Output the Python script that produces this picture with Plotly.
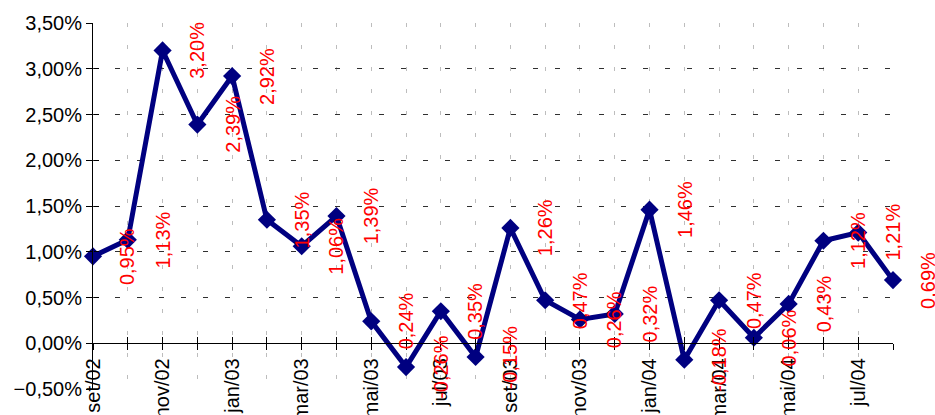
import plotly.graph_objects as go

months = ["set/02", "out/02", "nov/02", "dez/02", "jan/03", "fev/03", "mar/03", "abr/03",
          "mai/03", "jun/03", "jul/03", "ago/03", "set/03", "out/03", "nov/03", "dez/03",
          "jan/04", "fev/04", "mar/04", "abr/04", "mai/04", "jun/04", "jul/04", "ago/04"]
values = [0.95, 1.13, 3.20, 2.39, 2.92, 1.35, 1.06, 1.39,
          0.24, -0.26, 0.35, -0.15, 1.26, 0.47, 0.26, 0.32,
          1.46, -0.18, 0.47, 0.06, 0.43, 1.12, 1.21, 0.69]
tick_labels = [m if i % 2 == 0 else "" for i, m in enumerate(months)]
y_min, y_max, y_step = -0.5, 3.5, 0.5

n = len(values)
idx = list(range(n))
FONT = "Liberation Sans, Arial, sans-serif"
NAVY = "#000080"

fig = go.Figure()
fig.add_trace(go.Scatter(
    x=idx, y=values, mode="lines+markers",
    line=dict(color=NAVY, width=5),
    marker=dict(symbol="diamond", size=14, color=NAVY),
    showlegend=False, cliponaxis=False,
))
# empty trace so the overlay axes (used for the inner half of the cross ticks) are drawn
fig.add_trace(go.Scatter(x=[], y=[], xaxis="x2", yaxis="y2",
                         showlegend=False, hoverinfo="skip"))

annotations = []
for i, v in enumerate(values):
    annotations.append(dict(
        x=(i + 1) / (n - 1), xref="paper", y=v, yref="y",
        text=f"{v:.2f}%".replace(".", ","), textangle=-90,
        showarrow=False, xanchor="center", yanchor="middle",
        font=dict(family=FONT, size=20, color="red"),
    ))

zero_pos = (0 - y_min) / (y_max - y_min)

fig.update_layout(
    width=935, height=415,
    margin=dict(l=93, r=42, t=23, b=26),
    paper_bgcolor="white", plot_bgcolor="white",
    separators=",.",
    font=dict(family=FONT, size=20, color="black"),
    annotations=annotations,
    xaxis=dict(
        range=[0, n - 1], tickmode="array", tickvals=idx, ticktext=tick_labels,
        tickangle=-90, anchor="free", position=zero_pos,
        showline=True, linecolor="black", linewidth=1,
        ticks="outside", ticklen=6, tickcolor="black",
        showgrid=True, gridcolor="#bdbdbd", gridwidth=1, griddash="4px,18px",
        zeroline=False, automargin=False,
        tickfont=dict(family=FONT, size=20, color="black"),
    ),
    yaxis=dict(
        range=[y_min, y_max], dtick=y_step, tick0=0,
        tickformat=".2f", ticksuffix="%",
        showline=True, linecolor="black", linewidth=1,
        ticks="outside", ticklen=6, tickcolor="black",
        showgrid=True, gridcolor="#303030", gridwidth=1, griddash="5px,17px",
        zeroline=False, automargin=False,
        tickfont=dict(family=FONT, size=20, color="black"),
    ),
    xaxis2=dict(
        overlaying="x", range=[0, n - 1], tickmode="array", tickvals=idx,
        anchor="free", position=zero_pos, side="bottom",
        ticks="inside", ticklen=6, tickcolor="black",
        showticklabels=False, showgrid=False, showline=False, zeroline=False,
        automargin=False,
    ),
    yaxis2=dict(
        overlaying="y", range=[y_min, y_max], dtick=y_step, tick0=0,
        anchor="free", position=0, side="left",
        ticks="inside", ticklen=5, tickcolor="black",
        showticklabels=False, showgrid=False, showline=False, zeroline=False,
        automargin=False,
    ),
)

fig.write_html(
    "out.html",
    config={"displayModeBar": False},
    post_script="document.documentElement.style.overflow='hidden';"
                "document.body.style.margin='0';document.body.style.overflow='hidden';",
)
